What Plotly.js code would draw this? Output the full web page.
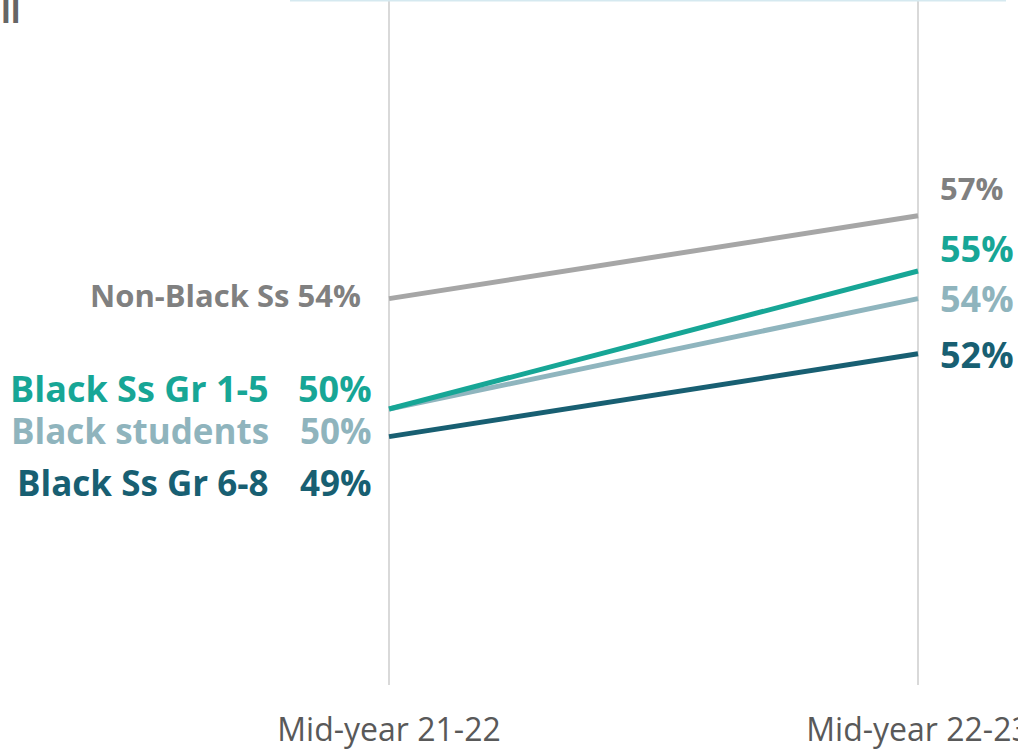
<!DOCTYPE html>
<html>
<head>
<meta charset="utf-8">
<script src="https://cdn.plot.ly/plotly-3.0.1.min.js"></script>
<style>
  html, body { margin: 0; padding: 0; background: #ffffff; }
  #chart { width: 1018px; height: 750px; }
</style>
</head>
<body>
<div id="chart"></div>
<script>
// Period labels on the x axis
const periods = ["Mid-year 21-22", "Mid-year 22-23"];

// Share of students (%) at each period
const nonBlackSs = [54, 57];
const blackStudents = [50, 54];
const blackGr68 = [49, 52];
const blackGr15 = [50, 55];

// Series names shown next to the lines
const seriesNames = ["Non-Black Ss", "Black students", "Black Ss Gr 6-8", "Black Ss Gr 1-5"];

// Drawing order: last one ends up on top
const seriesValues = [nonBlackSs, blackStudents, blackGr68, blackGr15];

// Appearance of each series, same order as above
const styles = [
  { line: "#a6a6a6", text: "#808080", leftSize: 31, rightSize: 31, leftDy: 4,   rightDy: 28, joined: true },
  { line: "#8fb5be", text: "#8fb4bd", leftSize: 35, rightSize: 36, leftDy: -21, rightDy: 0 },
  { line: "#185f72", text: "#185f72", leftSize: 35, rightSize: 36, leftDy: -46, rightDy: -1 },
  { line: "#17a696", text: "#17a696", leftSize: 36, rightSize: 36, leftDy: 21,  rightDy: 23 }
];

const xPos = periods.map((_, i) => i);
const pct = v => Math.round(v) + "%";
const FONT = "'Open Sans', 'Noto Sans', sans-serif";

const traces = seriesValues.map((vals, i) => ({
  type: "scatter",
  mode: "lines",
  x: xPos,
  y: vals,
  name: seriesNames[i],
  line: { color: styles[i].line, width: 5 },
  hoverinfo: "skip"
}));

const annotations = [];
seriesValues.forEach((vals, i) => {
  const s = styles[i];
  const f = size => ({ family: FONT, size: size, color: s.text, weight: 700 });
  if (s.joined) {
    annotations.push({
      x: 0, y: vals[0], xref: "x", yref: "y",
      text: "<b>" + seriesNames[i] + " " + pct(vals[0]) + "</b>",
      showarrow: false, xanchor: "right", yanchor: "middle",
      xshift: -26, yshift: s.leftDy, font: f(s.leftSize)
    });
  } else {
    annotations.push({
      x: 0, y: vals[0], xref: "x", yref: "y",
      text: "<b>" + seriesNames[i] + "</b>",
      showarrow: false, xanchor: "right", yanchor: "middle",
      xshift: -118, yshift: s.leftDy, font: f(s.leftSize)
    });
    annotations.push({
      x: 0, y: vals[0], xref: "x", yref: "y",
      text: "<b>" + pct(vals[0]) + "</b>",
      showarrow: false, xanchor: "right", yanchor: "middle",
      xshift: -15, yshift: s.leftDy, font: f(s.leftSize)
    });
  }
  annotations.push({
    x: 1, y: vals[1], xref: "x", yref: "y",
    text: "<b>" + pct(vals[1]) + "</b>",
    showarrow: false, xanchor: "left", yanchor: "middle",
    xshift: 20, yshift: s.rightDy, font: f(s.rightSize)
  });
});

// Tail of the heading text above the chart
annotations.push({
  x: 0, y: 1, xref: "paper", yref: "paper",
  text: "<b>ll</b>", showarrow: false,
  xanchor: "left", yanchor: "bottom", xshift: -1, yshift: -34,
  font: { family: FONT, size: 32, color: "#666666" }
});

const layout = {
  width: 1018,
  height: 750,
  margin: { l: 0, r: 0, t: 0, b: 65, pad: 0 },
  paper_bgcolor: "#ffffff",
  plot_bgcolor: "#ffffff",
  showlegend: false,
  xaxis: {
    range: [-0.7354, 1.189],
    tickvals: xPos,
    ticktext: periods,
    showgrid: true,
    gridcolor: "#d9d9d9",
    gridwidth: 1.5,
    zeroline: false,
    showline: false,
    ticks: "outside",
    ticklen: 17,
    tickcolor: "rgba(0,0,0,0)",
    ticklabeloverflow: "allow",
    tickfont: { family: FONT, size: 32, color: "#595959" },
    fixedrange: true
  },
  yaxis: {
    range: [40, 64.82],
    showgrid: false,
    zeroline: false,
    showline: false,
    showticklabels: false,
    ticks: "",
    fixedrange: true
  },
  shapes: [{
    type: "line", xref: "paper", yref: "paper",
    x0: 290 / 1018, x1: 1006 / 1018, y0: 1, y1: 1,
    line: { color: "#d5e9f0", width: 3 }
  }],
  annotations: annotations
};

Plotly.newPlot("chart", traces, layout, { displayModeBar: false, staticPlot: true });
</script>
</body>
</html>
